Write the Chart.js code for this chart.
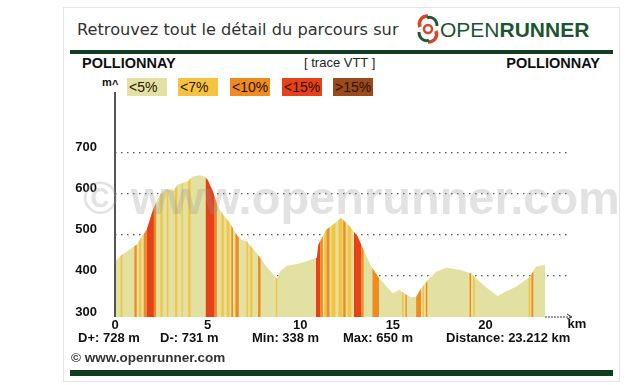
<!DOCTYPE html>
<html>
<head>
<meta charset="utf-8">
<script src="https://cdn.jsdelivr.net/npm/chart.js@4.4.1/dist/chart.umd.min.js"></script>
<style>
  body { margin: 0; width: 640px; height: 385px; background: #fff; position: relative; overflow: hidden;
         font-family: "Liberation Sans", Arial, sans-serif; color: #111; }
  .abs { position: absolute; white-space: nowrap; }
  #card { left: 63px; top: 7px; width: 555px; height: 373px; border: 1px solid #e4e4e4; }
  #title { left: 77px; top: 19px; font: 16.2px "DejaVu Sans", sans-serif; line-height: 22px; color: #333; }
  #brand { left: 440px; top: 18px; font-size: 21px; line-height: 24px; color: #1c5530; }
  #brand b { font-weight: 700; }
  .rule { background: #123c21; left: 70px; width: 543px; }
  .place { top: 55px; font-weight: 700; font-size: 14.5px; line-height: 16px; }
  #trace { left: 304px; top: 56px; font-size: 13px; line-height: 14px; color: #222; }
  .leg { top: 78px; height: 18px; width: 40px; font-size: 14px; line-height: 18px; padding-left: 2px;
         box-sizing: border-box; color: #2e1200; }
  .stat { top: 330px; font-weight: 700; font-size: 13px; line-height: 15px; }
  #foot { left: 71px; top: 350px; font-weight: 700; font-size: 13.5px; line-height: 16px; color: #333; }
  #chartBox { left: 0; top: 87px; width: 640px; height: 253px; }
</style>
</head>
<body>
<div id="card" class="abs"></div>
<div id="title" class="abs">Retrouvez tout le détail du parcours sur</div>
<svg class="abs" style="left:416px;top:13px" width="24" height="32" viewBox="0 0 24 32">
  <path d="M12 3 C5 3 2 9 4 14" stroke="#d8452a" stroke-width="3.5" fill="none"/>
  <path d="M12 29 C19 29 22 23 20 18" stroke="#d8452a" stroke-width="3.5" fill="none"/>
  <path d="M3 19 C3 26 9 29 13 27" stroke="#1f5a34" stroke-width="3" fill="none"/>
  <path d="M21 13 C21 6 15 3 11 5" stroke="#1f5a34" stroke-width="3" fill="none"/>
  <circle cx="12" cy="16" r="4" fill="none" stroke="#d8452a" stroke-width="2.5"/>
</svg>
<div id="brand" class="abs">OPEN<b>RUNNER</b></div>
<div class="abs rule" style="top:50px;height:4px"></div>
<div class="abs place" style="left:82px">POLLIONNAY</div>
<div id="trace" class="abs">[ trace VTT ]</div>
<div class="abs place" style="right:40px">POLLIONNAY</div>
<div class="abs" style="left:102px;top:76px;font-size:11px;font-weight:700">m</div>
<div class="abs" style="left:112px;top:78px;font-size:11px;font-weight:700">^</div>
<div id="legend"></div>
<div class="abs" id="chartBox"><canvas id="profile" width="640" height="253"></canvas></div>
<div class="abs stat" style="left:78px">D+: 728 m</div>
<div class="abs stat" style="left:160px">D-: 731 m</div>
<div class="abs stat" style="left:252px">Min: 338 m</div>
<div class="abs stat" style="left:343px">Max: 650 m</div>
<div class="abs stat" style="left:446px">Distance: 23.212 km</div>
<div id="foot" class="abs">© www.openrunner.com</div>
<div class="abs rule" style="top:370px;height:6px"></div>

<script>
// profil altimétrique (km, m)
const distKm = [0, 0.36, 1.17, 1.71, 2.05, 2.43, 2.78, 3.13, 3.4, 3.93, 4.2, 4.58, 4.85, 5.0, 5.28,
  5.55, 5.83, 6.2, 6.55, 6.83, 7.1, 7.63, 8.17, 8.62, 8.75, 8.9, 9.25, 10.0, 10.9, 10.97, 11.4,
  11.75, 12.2, 12.67, 13.1, 13.48, 13.84, 14.2, 14.65, 15.0, 15.36, 15.72, 15.99, 16.26, 16.53,
  16.9, 17.34, 17.88, 18.6, 19.23, 19.68, 20.2, 20.66, 21.1, 21.7, 22.4, 22.73, 23.212];
const elevM = [435, 451, 476, 512, 561, 598, 611, 606, 622, 630, 642, 645, 641, 634, 606,
  569, 549, 529, 500, 488, 484, 456, 423, 400, 393, 410, 424, 431, 444, 475, 512,
  524, 541, 520, 496, 456, 423, 398, 374, 358, 366, 354, 348, 349, 370,
  390, 410, 420, 415, 406, 386, 366, 351, 362, 375, 398, 423, 427];

// bandes de pente : début, fin (km), classe (0 <5%, 1 <7%, 2 <10%, 3 <15%, 4 >15%)
const stripeFrom = [0.30, 1.05, 1.30, 1.55, 1.70, 2.10, 2.45, 2.80, 3.24, 3.60, 3.95, 4.90, 5.38, 5.75, 6.03,
  6.28, 6.50, 7.10, 7.30, 7.72, 8.68, 10.85, 11.08, 11.30, 11.42, 11.68, 12.06, 12.32, 12.56,
  12.90, 13.30, 13.90, 15.50, 15.68, 16.26, 16.60, 16.78, 19.14, 19.34, 22.33, 22.48];
const stripeTo = [0.40, 1.17, 1.42, 1.68, 2.10, 2.22, 2.57, 2.88, 3.36, 3.66, 4.08, 5.38, 5.50, 5.87, 6.18,
  6.37, 6.68, 7.19, 7.42, 7.86, 8.76, 11.08, 11.22, 11.40, 11.58, 11.90, 12.28, 12.45, 12.76,
  13.30, 13.42, 14.25, 15.58, 15.75, 16.52, 16.68, 16.86, 19.22, 19.42, 22.42, 22.58];
const stripeClass = [1, 2, 1, 2, 3, 2, 1, 1, 1, 1, 1, 3, 2, 1, 1,
  2, 2, 1, 1, 2, 1, 3, 2, 1, 2, 1, 1, 2, 1,
  3, 2, 2, 1, 2, 2, 1, 2, 2, 1, 1, 2];

const slopeLabels = ['<5%', '<7%', '<10%', '<15%', '>15%'];
const slopeColors = ['#e2e1a2', '#f4c33f', '#ef8b1f', '#e5421a', '#9b4a1c'];
const yTicks = [300, 400, 500, 600, 700];
const xTicks = [0, 5, 10, 15, 20];

// légende des pentes
const legendLeft = [127, 178, 230, 282, 333];
const legend = document.getElementById('legend');
slopeLabels.forEach((lab, i) => {
  const d = document.createElement('div');
  d.className = 'abs leg';
  d.style.left = legendLeft[i] + 'px';
  d.style.background = slopeColors[i];
  d.textContent = lab;
  legend.appendChild(d);
});

// bandes colorées, axe, filigrane et flèche km
const stripesPlugin = {
  id: 'stripes',
  afterDatasetsDraw(chart) {
    const ctx = chart.ctx;
    const area = chart.chartArea;
    const x = chart.scales.x;
    const pts = chart.getDatasetMeta(0).data;

    ctx.save();
    ctx.beginPath();
    ctx.moveTo(pts[0].x, area.bottom);
    pts.forEach(p => ctx.lineTo(p.x, p.y));
    ctx.lineTo(pts[pts.length - 1].x, area.bottom);
    ctx.closePath();
    ctx.clip();
    stripeFrom.forEach((s, i) => {
      const x0 = x.getPixelForValue(s);
      const x1 = x.getPixelForValue(stripeTo[i]);
      ctx.fillStyle = slopeColors[stripeClass[i]];
      ctx.fillRect(x0, area.top, x1 - x0, area.bottom - area.top);
    });
    ctx.restore();

    ctx.save();
    ctx.strokeStyle = '#555';
    ctx.lineWidth = 2;
    ctx.beginPath();
    ctx.moveTo(area.left, area.top - 3);
    ctx.lineTo(area.left, area.bottom);
    ctx.stroke();

    ctx.font = 'bold 47px "Liberation Sans", Arial, sans-serif';
    ctx.fillStyle = 'rgba(150,150,150,0.28)';
    ctx.textBaseline = 'alphabetic';
    ctx.fillText('© www.openrunner.com', area.left - 32, area.top + 119);

    const xa = pts[pts.length - 1].x;
    ctx.strokeStyle = '#333';
    ctx.lineWidth = 1;
    ctx.setLineDash([2, 1]);
    ctx.beginPath();
    ctx.moveTo(xa, area.bottom);
    ctx.lineTo(area.right + 4, area.bottom);
    ctx.stroke();
    ctx.setLineDash([]);
    ctx.beginPath();
    ctx.moveTo(area.right, area.bottom - 3);
    ctx.lineTo(area.right + 5, area.bottom);
    ctx.lineTo(area.right, area.bottom + 2);
    ctx.stroke();
    ctx.fillStyle = '#111';
    ctx.font = 'bold 13px "Liberation Sans", Arial, sans-serif';
    ctx.textAlign = 'center';
    ctx.textBaseline = 'top';
    ctx.fillText('km', area.right + 10, area.bottom + 1);
    ctx.restore();
  }
};

new Chart(document.getElementById('profile'), {
  type: 'line',
  data: {
    datasets: [{
      data: distKm.map((d, i) => ({ x: d, y: elevM[i] })),
      backgroundColor: slopeColors[0],
      borderWidth: 0,
      pointRadius: 0,
      fill: 'start',
      tension: 0
    }]
  },
  options: {
    responsive: false,
    animation: false,
    layout: { padding: { left: 55, right: 73, top: 8, bottom: 7 } },
    plugins: { legend: { display: false }, tooltip: { enabled: false } },
    scales: {
      x: {
        type: 'linear',
        min: 0,
        max: 24.4,
        afterBuildTicks: s => { s.ticks = xTicks.map(v => ({ value: v })); },
        afterFit: s => { s.height = 16; },
        grid: { display: false, drawTicks: false },
        border: { display: false },
        ticks: { padding: 1, color: '#111', font: { family: '"Liberation Sans", Arial', size: 13, weight: 'bold' } }
      },
      y: {
        min: 300,
        max: 840,
        afterBuildTicks: s => { s.ticks = yTicks.map(v => ({ value: v })); },
        afterFit: s => { s.width = 60; },
        grid: {
          drawTicks: true,
          tickLength: 18,
          tickColor: 'rgba(0,0,0,0)',
          color: c => c.tick && c.tick.value === 300 ? 'rgba(0,0,0,0)' : '#555',
          lineWidth: 1.2
        },
        border: { display: false, dash: [1.5, 4.5] },
        ticks: { padding: 0, labelOffset: -5, color: '#111',
                 font: { family: '"Liberation Sans", Arial', size: 13, weight: 'bold' } }
      }
    }
  },
  plugins: [stripesPlugin]
});
</script>
</body>
</html>
